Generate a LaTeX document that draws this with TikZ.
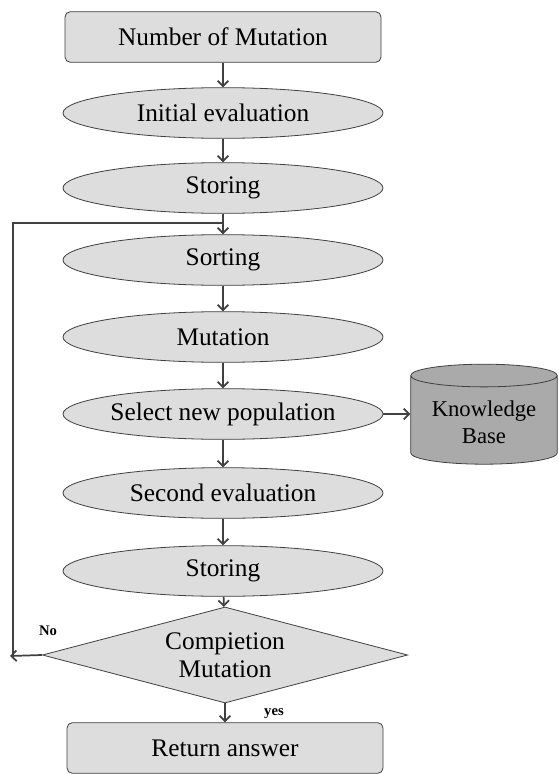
\documentclass[tikz,border=0pt]{standalone}
\usepackage{fontspec}
\setmainfont{Liberation Serif}
\usetikzlibrary{shapes.geometric,arrows.meta}

\begin{document}
\begin{tikzpicture}[x=0.75pt,y=0.75pt,yscale=-1,xscale=1,
  procbox/.style={draw={rgb, 255:red, 64; green, 64; blue, 64 },line width=0.6pt,rounded corners=4pt,fill={rgb, 255:red, 221; green, 221; blue, 221 },minimum width=237pt,minimum height=38pt,font=\rmfamily\fontsize{19}{21}\selectfont},
  stepell/.style={draw={rgb, 255:red, 64; green, 64; blue, 64 },line width=0.6pt,ellipse,inner sep=0pt,fill={rgb, 255:red, 221; green, 221; blue, 221 },minimum width=240pt,minimum height=38pt,font=\rmfamily\fontsize{19}{21}\selectfont},
  decide/.style={draw={rgb, 255:red, 64; green, 64; blue, 64 },line width=0.6pt,diamond,aspect=3.8,inner sep=0pt,fill={rgb, 255:red, 221; green, 221; blue, 221 },minimum width=274pt,minimum height=72pt,align=center,font=\rmfamily\fontsize{19}{21}\selectfont},
  store/.style={draw={rgb, 255:red, 64; green, 64; blue, 64 },line width=0.6pt,cylinder,shape border rotate=90,aspect=0.2,fill={rgb, 255:red, 170; green, 170; blue, 170 },minimum width=110pt,minimum height=75pt,align=center,font=\rmfamily\fontsize{17}{20}\selectfont},
  flow/.style={draw={rgb, 255:red, 64; green, 64; blue, 64 },line width=1.3pt,-{Straight Barb[length=4pt,width=8pt]}},
  lbl/.style={font=\rmfamily\fontsize{11}{12}\selectfont\bfseries,inner sep=0.75pt}]
\useasboundingbox (0,0) rectangle (558,774);

% Nodes
\node [procbox] (numbox) at (223,37) {Number of Mutation};
\node [stepell] (initev) at (223,113) {Initial evaluation};
\node [stepell] (store1) at (223,188) {Storing};
\node [stepell] (sorting) at (223,260) {Sorting};
\node [stepell] (mutation) at (223,337) {Mutation};
\node [stepell] (select) at (223,414) {Select new population};
\node [stepell] (secev) at (223,493) {Second evaluation};
\node [stepell] (store2) at (223,571) {Storing};
\node [decide] (compl) at (225,655) {Compietion\\Mutation};
\node [procbox] (retbox) at (225,748) {Return answer};
\node [store] (kbase) at (484,422) {Knowledge\\Base};

% Connectors
\draw [flow] (numbox) -- (initev);
\draw [flow] (initev) -- (store1);
\draw [flow] (store1) -- (sorting);
\draw [flow] (sorting) -- (mutation);
\draw [flow] (mutation) -- (select);
\draw [flow] (select) -- (secev);
\draw [flow] (secev) -- (store2);
\draw [flow] (store2) -- (compl);
\draw [flow] (compl) -- (retbox);
\draw [flow] (select.east) -- (select.east -| kbase.west);

% Loop back
\coordinate (loopb) at (10,656);
\coordinate (loopt) at (13,223);
\draw [flow] (compl.west) -- (loopb);
\draw [draw={rgb, 255:red, 64; green, 64; blue, 64 },line width=1.3pt] (loopt |- loopb) -- (loopt) -- (loopt -| sorting);

% Text Node
\node [lbl] (nolbl) at (48,631) {No};
\node [lbl] (yeslbl) at (274,714) {yes};

\end{tikzpicture}
\end{document}
